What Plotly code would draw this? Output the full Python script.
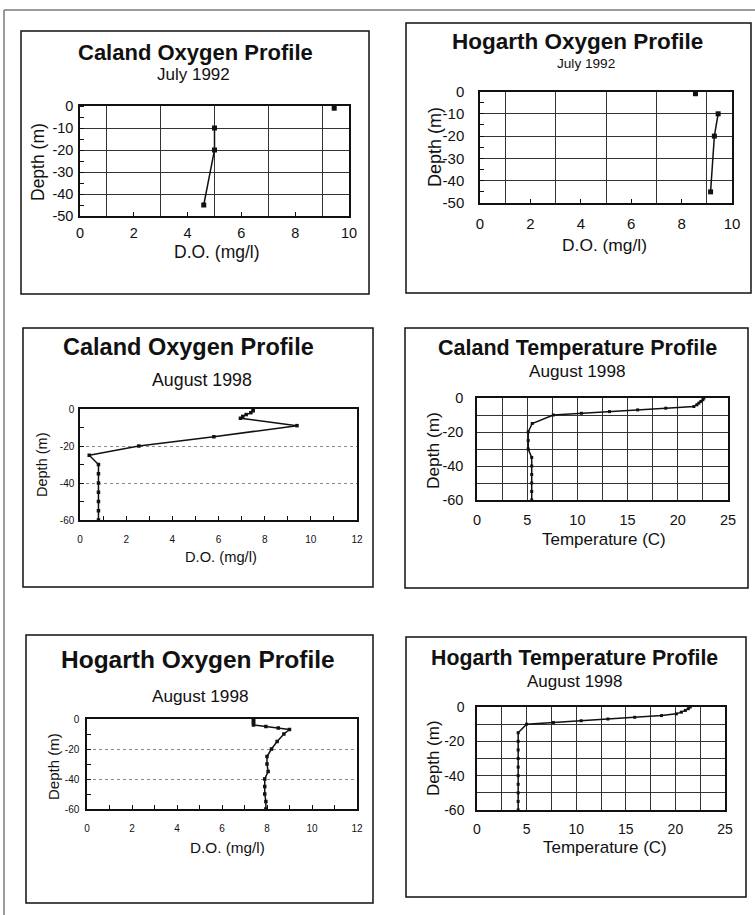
import plotly.graph_objects as go

# ---------------- data ----------------
# Caland, July 1992 (surface reading not joined to the rest)
caland_92_do = [9.45, None, 5.0, 5.0, 4.6]
caland_92_depth = [-1, None, -10, -20, -45]

# Hogarth, July 1992
hogarth_92_do = [8.55, None, 9.45, 9.3, 9.15]
hogarth_92_depth = [-1, None, -10, -20, -45]

# Caland, August 1998 dissolved oxygen
caland_98_depth = [0, -1, -2, -3, -4, -5, -9, -15, -20, -25, -30, -35, -40, -45, -50, -55, -60]
caland_98_do = [7.5, 7.5, 7.4, 7.2, 7.05, 6.95, 9.4, 5.8, 2.55, 0.4, 0.8, 0.8, 0.8, 0.8, 0.8, 0.8, 0.8]

# Caland, August 1998 temperature
caland_98_tdepth = [0, -1, -2, -3, -4, -5, -6, -7, -8, -9, -10, -15, -20, -25, -30, -35,
                    -40, -45, -50, -55, -60]
caland_98_temp = [22.6, 22.5, 22.3, 22.1, 21.9, 21.6, 18.8, 16.0, 13.2, 10.4, 7.6, 5.5, 5.1,
                  5.1, 5.1, 5.45, 5.45, 5.45, 5.45, 5.45, 5.45]

# Hogarth, August 1998 dissolved oxygen
hogarth_98_depth = [0, -1, -2, -3, -4, -5, -6, -7, -10, -15, -20, -25, -30, -35, -40, -45,
                    -50, -55, -60]
hogarth_98_do = [7.4, 7.4, 7.4, 7.4, 7.4, 7.95, 8.5, 9.0, 8.75, 8.45, 8.2, 8.0, 8.0, 8.05,
                 7.9, 7.9, 7.9, 7.95, 7.95]

# Hogarth, August 1998 temperature
hogarth_98_tdepth = [0, -1, -2, -3, -4, -5, -6, -7, -8, -9, -10, -15, -20, -25, -30, -35,
                     -40, -45, -50, -55, -60]
hogarth_98_temp = [21.5, 21.3, 21.0, 20.6, 20.1, 18.6, 15.9, 13.2, 10.5, 7.7, 5.0, 4.15, 4.15,
                   4.15, 4.15, 4.15, 4.15, 4.15, 4.15, 4.15, 4.15]

# tick labels
do10_ticks = [0, 2, 4, 6, 8, 10]
do12_ticks = [0, 2, 4, 6, 8, 10, 12]
temp_ticks = [0, 5, 10, 15, 20, 25]
depth50_ticks = [0, -10, -20, -30, -40, -50]
depth60_ticks = [0, -20, -40, -60]
depth50_text = ["0", "-10", "-20", "-30", "-40", "-50"]
depth60_text = ["0", "-20", "-40", "-60"]

titles = ["Caland Oxygen Profile", "Hogarth Oxygen Profile", "Caland Oxygen Profile",
          "Caland Temperature Profile", "Hogarth Oxygen Profile", "Hogarth Temperature Profile"]
subtitles = ["July 1992", "July 1992", "August 1998", "August 1998", "August 1998", "August 1998"]
xtitles = ["D.O. (mg/l)", "D.O. (mg/l)", "D.O. (mg/l)", "Temperature (C)", "D.O. (mg/l)",
           "Temperature (C)"]
ytitle = "Depth (m)"

# ---------------- layout helpers ----------------
W, H = 755, 915
FONT = "Liberation Sans, Arial, sans-serif"
INK = "#111111"
GRID = "#333333"


def fx(x):
    return x / W


def fy(y):
    return 1 - y / H


# plot-area pixel boxes (left, top, right, bottom)
plot_boxes = [(80, 106, 349, 216), (480, 91.5, 732, 203), (80, 409, 357, 520),
              (477, 398, 728, 500), (87, 719, 357, 809), (477, 707, 725, 810)]
# chart-area frames
frames = [(21, 31, 369, 294), (406, 23, 751, 293), (23, 328, 373, 587),
          (405, 328, 748, 588), (26, 635, 373, 903), (406, 637, 746, 897)]

title_pos = [(195, 52, 22), (577, 42, 22.5), (188, 347, 23.5), (577, 348, 21.5),
             (198, 659, 24.5), (574, 658, 21.3)]
sub_pos = [(193, 75, 17), (586, 63, 13.6), (202, 380, 17.8), (577, 371, 17.2),
           (200, 696, 17.2), (574, 681, 17)]
xt_pos = [(217, 252, 17.5), (604, 245, 17.4), (221, 557, 14.7), (604, 539, 17),
          (227, 847, 15.3), (605, 847, 17)]
yt_pos = [(38, 162, 17.5), (435, 147, 18), (42, 465, 14.5), (433, 450, 17.3),
          (53, 767, 15), (433, 758, 17)]
tick_font = [14.5, 15, 10, 14.5, 10, 14]
ystand = [2, 11, 2, 9, 4, 8]
xstand = [3, 6, 9, 6, 9, 5]

fig = go.Figure()

series = [
    (caland_92_do, caland_92_depth, "square", 5),
    (hogarth_92_do, hogarth_92_depth, "square", 5),
    (caland_98_do, caland_98_depth, "square", 3.5),
    (caland_98_temp, caland_98_tdepth, "square", 3),
    (hogarth_98_do, hogarth_98_depth, "square", 3.5),
    (hogarth_98_temp, hogarth_98_tdepth, "square", 3),
]

for i, (xs, ys, sym, ms) in enumerate(series):
    n = "" if i == 0 else str(i + 1)
    fig.add_trace(go.Scatter(
        x=xs, y=ys, mode="lines+markers", xaxis="x" + n, yaxis="y" + n,
        line=dict(color=INK, width=1.5), marker=dict(symbol=sym, size=ms, color=INK),
        connectgaps=False, cliponaxis=False, showlegend=False, hoverinfo="x+y"))

axes = {}
for i in range(6):
    n = "" if i == 0 else str(i + 1)
    l, t, r, b = plot_boxes[i]
    base = dict(showline=True, mirror=True, linecolor=INK, linewidth=1.5, zeroline=False,
                tickfont=dict(family=FONT, size=tick_font[i], color=INK), fixedrange=True,
                tickcolor=INK, ticks="inside", ticklen=4, layer="above traces",
                automargin=False)
    xa = dict(base, domain=[fx(l), fx(r)], anchor="y" + n, ticklabelstandoff=xstand[i])
    ya = dict(base, domain=[fy(b), fy(t)], anchor="x" + n, ticklabelstandoff=ystand[i])
    if i in (0, 1):
        xa.update(range=[0, 10], tickmode="array", tickvals=do10_ticks, showgrid=False,
                  minor=dict(tickvals=[1, 3, 5, 7, 9], showgrid=True, gridcolor=GRID,
                             gridwidth=1, ticks=""))
        ya.update(range=[-50, 0], tickmode="array", tickvals=depth50_ticks,
                  ticktext=depth50_text, showgrid=True, gridcolor=GRID, gridwidth=1,
                  ticks="", minor=dict(dtick=5, ticks="inside", ticklen=4, tickcolor=INK,
                                       showgrid=False))
    elif i in (2, 4):
        xa.update(range=[0, 12], tickmode="array", tickvals=do12_ticks, showgrid=False,
                  minor=dict(dtick=1, ticks="inside", ticklen=4, tickcolor=INK,
                             showgrid=False))
        ya.update(range=[-60, 0], tickmode="array", tickvals=depth60_ticks,
                  ticktext=depth60_text, showgrid=True, gridcolor="#8a8a8a",
                  griddash="dot", gridwidth=1,
                  minor=dict(dtick=10, ticks="inside", ticklen=4, tickcolor=INK,
                             showgrid=False))
    else:
        xa.update(range=[0, 25], tickmode="array", tickvals=temp_ticks, showgrid=True,
                  gridcolor=GRID, gridwidth=1, ticks="",
                  minor=dict(dtick=2.5, showgrid=True, gridcolor=GRID, gridwidth=1,
                             ticks=""))
        ya.update(range=[-60, 0], tickmode="array", tickvals=depth60_ticks,
                  ticktext=depth60_text, showgrid=True, gridcolor=GRID, gridwidth=1,
                  ticks="",
                  minor=dict(dtick=10, showgrid=True, gridcolor=GRID, gridwidth=1,
                             ticks=""))
    axes["xaxis" + n] = xa
    axes["yaxis" + n] = ya

annotations = []
for i in range(6):
    x, y, s = title_pos[i]
    annotations.append(dict(text="<b>" + titles[i] + "</b>", x=fx(x), y=fy(y),
                            font=dict(family=FONT, size=s, color=INK)))
    x, y, s = sub_pos[i]
    annotations.append(dict(text=subtitles[i], x=fx(x), y=fy(y),
                            font=dict(family=FONT, size=s, color=INK)))
    x, y, s = xt_pos[i]
    annotations.append(dict(text=xtitles[i], x=fx(x), y=fy(y),
                            font=dict(family=FONT, size=s, color=INK)))
    x, y, s = yt_pos[i]
    annotations.append(dict(text=ytitle, x=fx(x), y=fy(y), textangle=-90,
                            font=dict(family=FONT, size=s, color=INK)))
for a in annotations:
    a.update(xref="paper", yref="paper", showarrow=False, xanchor="center",
             yanchor="middle")

shapes = []
for (l, t, r, b) in frames:
    shapes.append(dict(type="rect", xref="paper", yref="paper", x0=fx(l), x1=fx(r),
                       y0=fy(b), y1=fy(t), line=dict(color=INK, width=1.5)))
# scanned page border (left and top edges)
shapes.append(dict(type="line", xref="paper", yref="paper", x0=fx(4), x1=fx(4), y0=0,
                   y1=fy(10), line=dict(color="#7a7a7a", width=1.5)))
shapes.append(dict(type="line", xref="paper", yref="paper", x0=fx(4), x1=1, y0=fy(10),
                   y1=fy(10), line=dict(color="#7a7a7a", width=1.5)))

fig.update_layout(width=W, height=H,
                  margin=dict(l=0, r=0, t=0, b=0, pad=0, autoexpand=False),
                  paper_bgcolor="white", plot_bgcolor="white", annotations=annotations,
                  shapes=shapes, font=dict(family=FONT, color=INK), **axes)

fig.write_html("out.html", config={"displayModeBar": False},
               post_script="document.body.style.margin='0px';"
                           "document.body.style.overflow='hidden';")
